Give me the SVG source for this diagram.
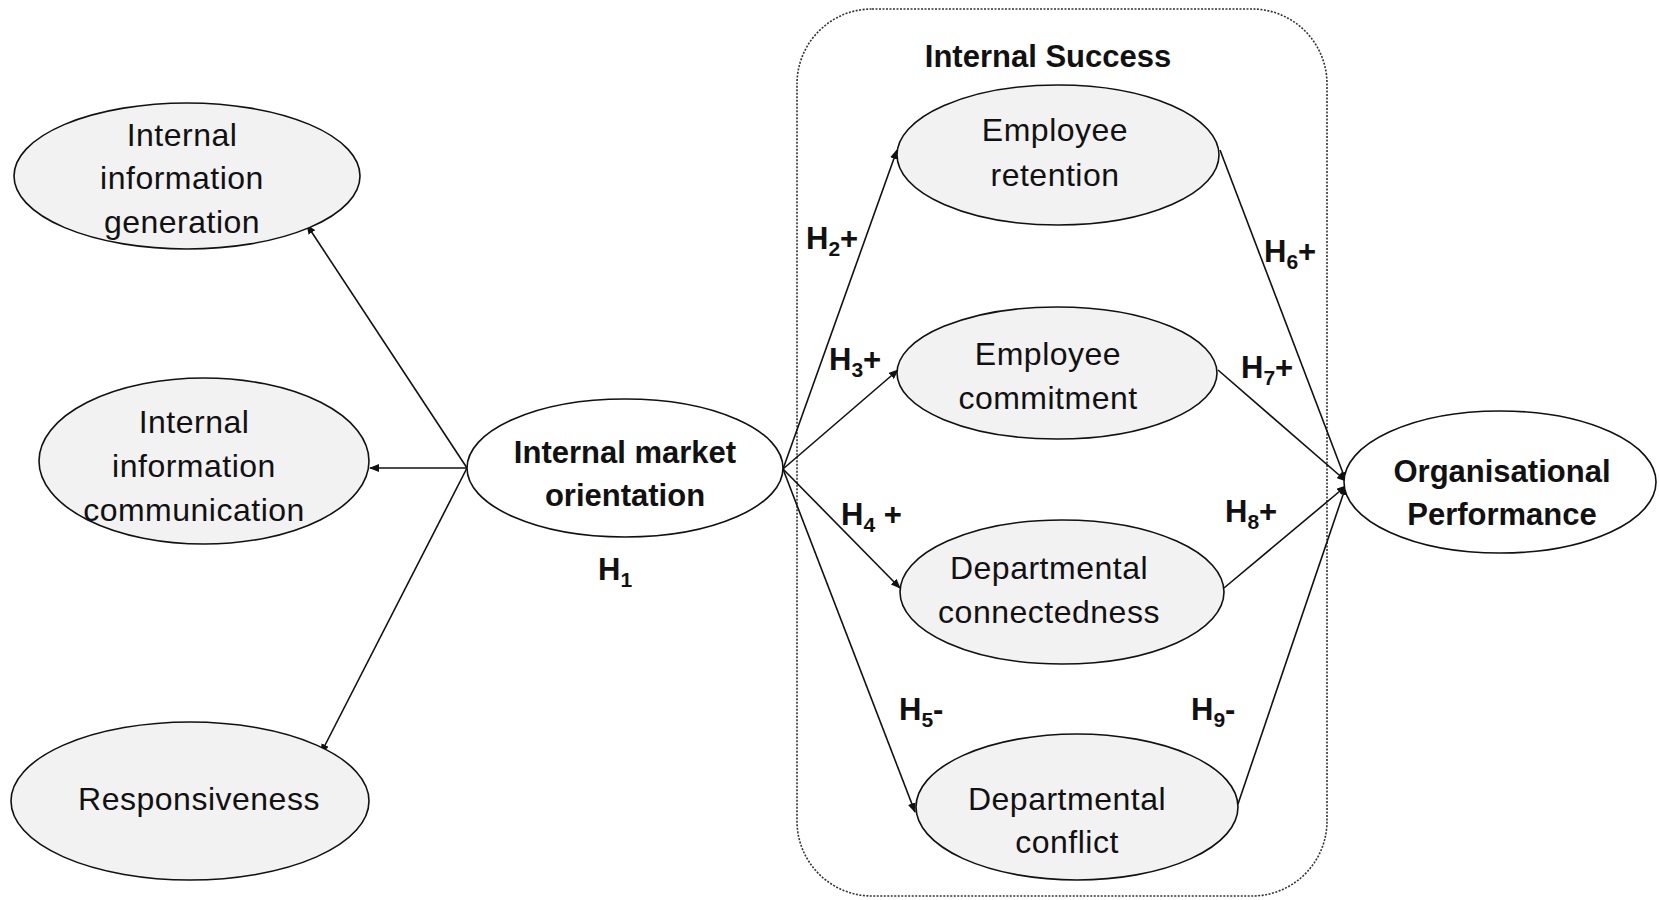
<svg xmlns="http://www.w3.org/2000/svg" width="1659" height="900" viewBox="0 0 1659 900">
<style>
.n{fill:#f2f2f2;stroke:#111;stroke-width:1.6}
.w{fill:#fff;stroke:#111;stroke-width:1.6}
.t{font-family:"Liberation Sans",Arial,sans-serif;font-size:32px;fill:#111;text-anchor:middle;letter-spacing:0.5px}
.b{font-family:"Liberation Sans",Arial,sans-serif;font-size:31px;font-weight:bold;fill:#111;text-anchor:middle}
.lbl{font-family:"Liberation Sans",Arial,sans-serif;font-size:31px;font-weight:bold;fill:#111}
.sub{font-size:21px}
.c{stroke:#111;stroke-width:1.6;fill:none;marker-end:url(#ah)}
</style>
<defs>
<marker id="ah" markerWidth="10" markerHeight="8" refX="9" refY="4" orient="auto" markerUnits="userSpaceOnUse">
<path d="M0,0 L10,4 L0,8 z" fill="#111"/>
</marker>
</defs>
<rect width="1659" height="900" fill="#fff"/>
<g id="internal-success">
<rect x="797" y="9" width="530" height="887" rx="75" ry="75" fill="none" stroke="#333" stroke-width="1.6" stroke-dasharray="2 1.5"/>
<text class="b" x="1048" y="67">Internal Success</text>
</g>
<g id="connectors">
<line class="c" x1="467" y1="468" x2="307" y2="225"/>
<line class="c" x1="467" y1="468" x2="370" y2="468"/>
<line class="c" x1="467" y1="468" x2="321" y2="753"/>
<line class="c" x1="783" y1="469" x2="897" y2="150"/>
<line class="c" x1="783" y1="469" x2="898" y2="370"/>
<line class="c" x1="783" y1="469" x2="900" y2="588"/>
<line class="c" x1="783" y1="469" x2="915" y2="812"/>
<line class="c" x1="1220" y1="150" x2="1346" y2="481"/>
<line class="c" x1="1218" y1="370" x2="1346" y2="481"/>
<line class="c" x1="1224" y1="588" x2="1346" y2="486"/>
<line class="c" x1="1238" y1="804" x2="1346" y2="486"/>
</g>
<g id="iig">
<ellipse class="n" cx="187" cy="176" rx="173" ry="73"/>
<text class="t" x="182" y="146">Internal</text>
<text class="t" x="182" y="189">information</text>
<text class="t" x="182" y="233">generation</text>
</g>
<g id="iic">
<ellipse class="n" cx="204" cy="461" rx="165" ry="83"/>
<text class="t" x="194" y="433">Internal</text>
<text class="t" x="194" y="477">information</text>
<text class="t" x="194" y="521">communication</text>
</g>
<g id="resp">
<ellipse class="n" cx="190" cy="801" rx="179" ry="79"/>
<text class="t" x="199" y="810">Responsiveness</text>
</g>
<g id="imo">
<ellipse class="w" cx="625" cy="468" rx="158" ry="69"/>
<text class="b" x="625" y="463">Internal market</text>
<text class="b" x="625" y="506">orientation</text>
<text class="lbl" x="598" y="580">H<tspan class="sub" dy="7">1</tspan></text>
</g>
<g id="er">
<ellipse class="n" cx="1058" cy="155" rx="161" ry="70"/>
<text class="t" x="1055" y="141">Employee</text>
<text class="t" x="1055" y="186">retention</text>
</g>
<g id="ec">
<ellipse class="n" cx="1057" cy="373" rx="160" ry="66"/>
<text class="t" x="1048" y="365">Employee</text>
<text class="t" x="1048" y="409">commitment</text>
</g>
<g id="dcn">
<ellipse class="n" cx="1062" cy="592" rx="162" ry="72"/>
<text class="t" x="1049" y="579">Departmental</text>
<text class="t" x="1049" y="623">connectedness</text>
</g>
<g id="dcf">
<ellipse class="n" cx="1077" cy="807" rx="161" ry="73"/>
<text class="t" x="1067" y="810">Departmental</text>
<text class="t" x="1067" y="853">conflict</text>
</g>
<g id="op">
<ellipse class="w" cx="1500" cy="482" rx="156" ry="71"/>
<text class="b" x="1502" y="482">Organisational</text>
<text class="b" x="1502" y="525">Performance</text>
</g>
<g id="labels">
<text class="lbl" x="806" y="249">H<tspan class="sub" dy="7">2</tspan><tspan dy="-7">+</tspan></text>
<text class="lbl" x="829" y="370">H<tspan class="sub" dy="7">3</tspan><tspan dy="-7">+</tspan></text>
<text class="lbl" x="841" y="525">H<tspan class="sub" dy="7">4</tspan><tspan dy="-7"> +</tspan></text>
<text class="lbl" x="899" y="720">H<tspan class="sub" dy="7">5</tspan><tspan dy="-7">-</tspan></text>
<text class="lbl" x="1264" y="262">H<tspan class="sub" dy="7">6</tspan><tspan dy="-7">+</tspan></text>
<text class="lbl" x="1241" y="378">H<tspan class="sub" dy="7">7</tspan><tspan dy="-7">+</tspan></text>
<text class="lbl" x="1225" y="522">H<tspan class="sub" dy="7">8</tspan><tspan dy="-7">+</tspan></text>
<text class="lbl" x="1191" y="720">H<tspan class="sub" dy="7">9</tspan><tspan dy="-7">-</tspan></text>
</g>
</svg>
